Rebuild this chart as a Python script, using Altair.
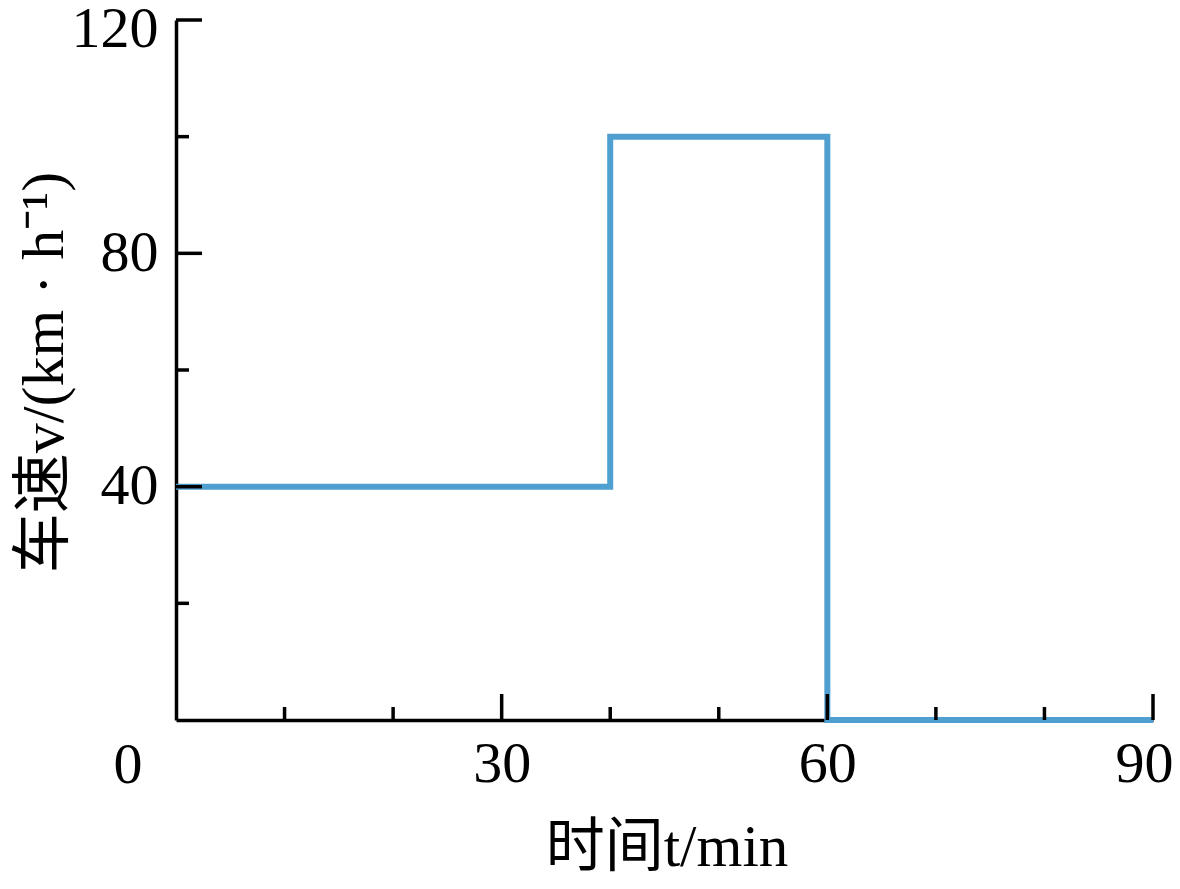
import altair as alt
import pandas as pd

# Step profile of vehicle speed
time_min = [0, 40, 60, 90]
speed_kmh = [40, 100, 0, 0]

x_labels = [30, 60, 90]
y_labels = [40, 80, 120]
x_major_ticks = [30, 60, 90]
x_minor_ticks = [10, 20, 40, 50, 70, 80]
y_major_ticks = [40, 80, 120]
y_minor_ticks = [20, 60, 100]
origin_label = ["0"]

W, H = 977, 700
SERIF = "Liberation Serif, Noto Sans CJK SC"
LINE_COLOR = "#4f9fd0"

df = pd.DataFrame({"t": time_min, "v": speed_kmh})
xs = alt.Scale(domain=[0, 90], nice=False, zero=False)
ys = alt.Scale(domain=[0, 120], nice=False, zero=False)

x_axis = alt.Axis(
    values=x_labels, ticks=False, grid=False, domainColor="black", domainWidth=3.5,
    labelFont=SERIF, labelFontSize=58, labelColor="black", labelPadding=15,
    labelFlush=False, labelOverlap=False,
    labelOffset={"condition": {"test": "datum.value == 90", "value": -9}, "value": 0},
    title="时间t/min", titleFont=SERIF, titleFontSize=59, titleFontWeight="normal",
    titleColor="black", titleX=W / 2 + 2, titleY=127, titleBaseline="middle", titleAlign="center",
)
y_axis = alt.Axis(
    values=y_labels, ticks=False, grid=False, domainColor="black", domainWidth=3.5,
    labelFont=SERIF, labelFontSize=58, labelColor="black", labelPadding=18,
    labelFlush=False, labelOverlap=False,
    labelOffset={"condition": {"test": "datum.value == 120", "value": 9}, "value": 0},
    title="车速v/(km · h⁻¹)", titleFont=SERIF, titleFontSize=60, titleFontWeight="normal",
    titleColor="black", titleX=-132, titleY=H / 2 + 2, titleAngle=270,
    titleBaseline="middle", titleAlign="center",
)

line = alt.Chart(df).mark_line(
    color=LINE_COLOR, strokeWidth=6, interpolate="step-after",
    strokeCap="butt", strokeJoin="miter"
).encode(
    x=alt.X("t:Q", scale=xs, axis=x_axis),
    y=alt.Y("v:Q", scale=ys, axis=y_axis),
)

def xticks(vals, length):
    return alt.Chart(pd.DataFrame({"t": vals})).mark_rule(color="black", strokeWidth=3.5).encode(
        x=alt.X("t:Q", scale=xs, axis=x_axis),
        y=alt.value(H),
        y2=alt.value(H - length),
    )

def yticks(vals, length):
    return alt.Chart(pd.DataFrame({"v": vals})).mark_rule(color="black", strokeWidth=3.5).encode(
        y=alt.Y("v:Q", scale=ys, axis=y_axis),
        x=alt.value(0),
        x2=alt.value(length),
    )

zero = alt.Chart(pd.DataFrame({"lab": origin_label, "t": [0], "v": [0]})).mark_text(
    font=SERIF, fontSize=58, color="black", dx=-48, dy=46, baseline="middle", align="center"
).encode(
    x=alt.X("t:Q", scale=xs, axis=x_axis),
    y=alt.Y("v:Q", scale=ys, axis=y_axis),
    text="lab:N",
)

chart = alt.layer(
    line,
    xticks(x_major_ticks, 26), xticks(x_minor_ticks, 13),
    yticks(y_major_ticks, 26), yticks(y_minor_ticks, 13),
    zero,
).properties(
    width=W, height=H, autosize="none", background="white",
    padding={"left": 168, "top": 12, "right": 19, "bottom": 161},
).configure_view(stroke=None)

chart.save("out.html", embed_options={"renderer": "svg", "actions": False})
